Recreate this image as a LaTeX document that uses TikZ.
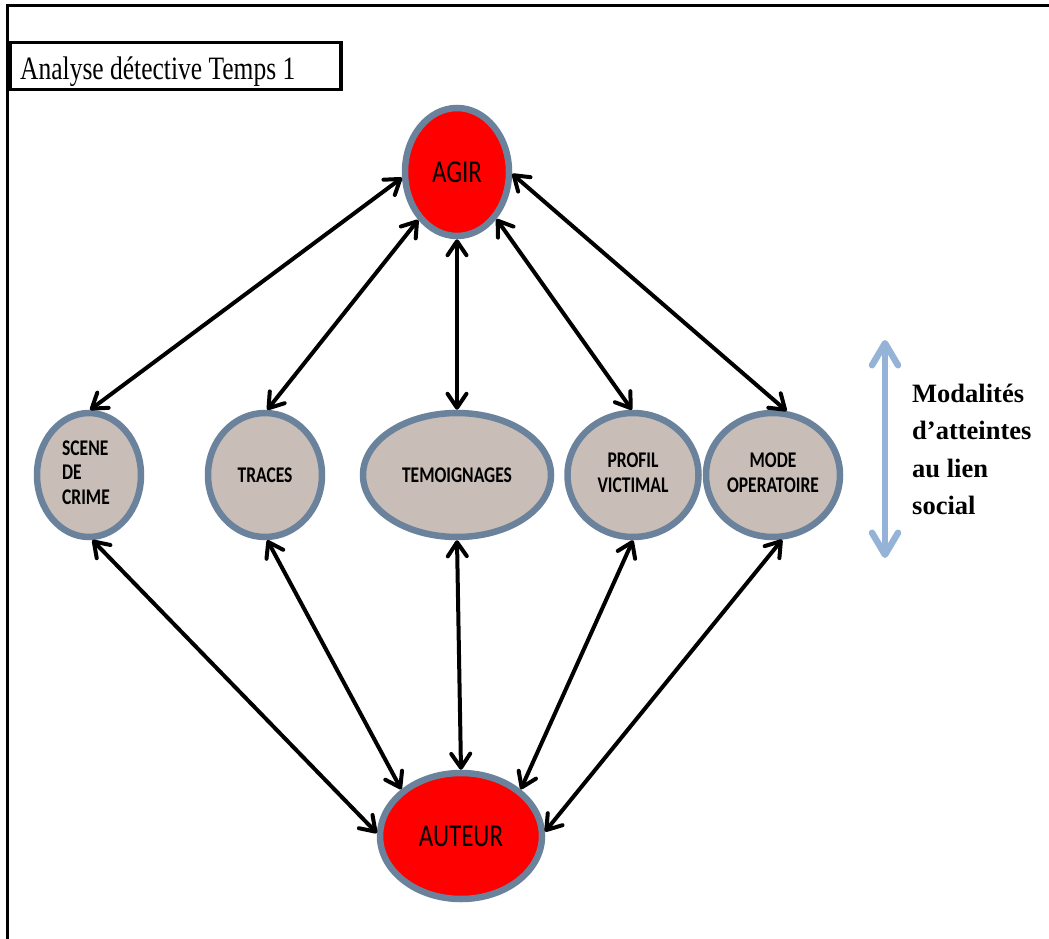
\documentclass[tikz,border=0pt]{standalone}
\usepackage{fontspec}
\setmainfont{Liberation Serif}
\newfontfamily\calibri{Carlito}
\usepackage{graphicx}
\usetikzlibrary{shapes.geometric,arrows.meta}
\definecolor{rim}{RGB}{106,130,155}
\definecolor{sand}{RGB}{201,189,183}
\definecolor{redfill}{RGB}{255,0,0}
\definecolor{skyarrow}{RGB}{149,179,215}
\newcommand\vst[1]{\scalebox{1}[1.28]{#1}}
\begin{document}
\begin{tikzpicture}[x=1pt,y=-1pt,
  oval/.style={ellipse, draw=rim, line width=6.5pt, inner sep=0pt},
  smalloval/.style={oval, fill=sand, font=\calibri\bfseries\fontsize{17.5}{19.5}\selectfont},
  bigoval/.style={oval, fill=redfill, font=\calibri\fontsize{25}{29}\selectfont},
  link/.style={line width=4pt, {Straight Barb[length=14pt,width=19pt,round]}-{Straight Barb[length=14pt,width=19pt,round]}},
]
\useasboundingbox (0,0) rectangle (1049,939);
\clip (0,0) rectangle (1049,939);
% outer frame
\draw[line width=3pt] (1070,5.5) -- (7,5.5) -- (7,960);
% title
\node (titlebox) [draw, line width=3.5pt, minimum width=331pt, minimum height=47pt, inner sep=0pt, anchor=north west] at (8,41) {};
\node (titletext) [anchor=base west, inner sep=0pt, font=\fontsize{25.5}{30}\selectfont] at (20,80) {\vst{Analyse détective Temps 1}};
% nodes
\node (agir) [bigoval, minimum width=104pt, minimum height=128pt] at (457,172) {\vst{AGIR}};
\node (scene) [smalloval, minimum width=104pt, minimum height=124pt] at (89,475) {\hspace*{-6pt}\vst{\begin{tabular}{@{}l@{}}SCENE\\DE\\CRIME\end{tabular}}};
\node (traces) [smalloval, minimum width=114pt, minimum height=124pt] at (265,475) {\vst{TRACES}};
\node (temoig) [smalloval, minimum width=188pt, minimum height=124pt] at (457,475) {\vst{TEMOIGNAGES}};
\node (profil) [smalloval, minimum width=131pt, minimum height=124pt] at (633,475) {\vst{\begin{tabular}{@{}c@{}}PROFIL\\VICTIMAL\end{tabular}}};
\node (mode) [smalloval, minimum width=134pt, minimum height=124pt] at (773,475) {\vst{\begin{tabular}{@{}c@{}}MODE\\OPERATOIRE\end{tabular}}};
\node (auteur) [bigoval, minimum width=162pt, minimum height=126pt] at (461,836) {\vst{AUTEUR}};
% links
\draw[link] (agir.186) -- (scene.89);
\draw[link] (agir.231) -- (traces.88);
\draw[link] (agir.270) -- (temoig.90);
\draw[link] (agir.310) -- (profil.91);
\draw[link] (agir.358) -- (mode.78);
\draw[link] (scene.273) -- (auteur.178);
\draw[link] (traces.272) -- (auteur.142);
\draw[link] (temoig.270) -- (auteur.90);
\draw[link] (profil.270) -- (auteur.38);
\draw[link] (mode.278) -- (auteur.3);
% side arrow and label
\coordinate (modtop) at (885,340);
\coordinate (modbot) at (885,558);
\draw[skyarrow, line width=6.5pt, line cap=round, {Straight Barb[length=22pt,width=26pt,round]}-{Straight Barb[length=22pt,width=26pt,round]}] (modtop) -- (modbot);
\node (modal) [anchor=base west, inner sep=0pt, font=\bfseries\fontsize{26.5}{37.5}\selectfont] at (912,402) {\begin{tabular}[t]{@{}l@{}}Modalités\\d’atteintes\\au lien\\social\end{tabular}};
\end{tikzpicture}
\end{document}
